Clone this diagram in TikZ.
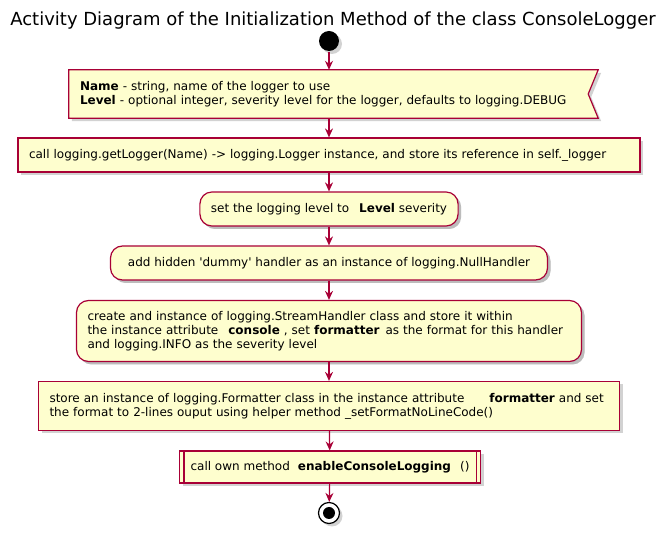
\documentclass[tikz,border=0pt]{standalone}
\usepackage{fontspec}
\newfontfamily\umlfont{DejaVu Sans}
\usetikzlibrary{arrows.meta,shadows,backgrounds}

\definecolor{umlred}{HTML}{A80036}
\definecolor{umlfill}{HTML}{FEFECE}

\tikzset{
    umlshadow/.style={drop shadow={shadow xshift=3pt, shadow yshift=-3pt, fill=black!35, opacity=0.5}},
    acttext/.style={inner xsep=11pt, inner ysep=0pt, align=left, font=\umlfont\fontsize{12}{14}\selectfont},
    actbox/.style={acttext, draw=umlred, fill=umlfill, line width=1.2pt, umlshadow},
    roundbox/.style={actbox, rounded corners=12pt},
    flow/.style={draw=umlred, line width=1.2pt, -{Stealth[length=9pt,width=8pt,inset=3pt]}},
}

\begin{document}
\begin{tikzpicture}[x=1pt,y=-1pt]
        \useasboundingbox (0,0) rectangle (657,534);
        \node[font=\umlfont\fontsize{18}{21}\selectfont] (title) at (333,21) {Activity Diagram of the Initialization Method of the class ConsoleLogger};

        \node[acttext, text width=507pt, minimum height=48pt] (params) at (333.5,94)
            {\textbf{Name} - string, name of the logger to use\\
             \textbf{Level} - optional integer, severity level for the logger, defaults to logging.DEBUG};

        \begin{scope}[every node/.style={actbox}]
            \node[circle, fill=black, draw=none, minimum size=20pt, inner sep=0pt] (start) at (329,41) {};

            \node[text width=600pt, minimum height=34pt] (getlog) at (329,155)
                {call logging.getLogger(Name) -> logging.Logger instance, and store its reference in self.\_logger};
            \node[roundbox, minimum width=258pt, minimum height=34pt, align=center] (setlevel) at (329,209)
                {set the logging level to\hspace{10pt}\textbf{Level} severity};
            \node[roundbox, minimum width=437pt, minimum height=34pt, align=center] (nullhdl) at (329,263)
                {add hidden 'dummy' handler as an instance of logging.NullHandler};
            \node[roundbox, text width=483pt, minimum height=61pt] (console) at (329,331)
                {create and instance of logging.StreamHandler class and store it within\\
                 the instance attribute\hspace{10pt}\textbf{console} , set \textbf{formatter}\hspace{6pt}as the format for this handler\\
                 and logging.INFO as the severity level};
            \node[text width=559pt, minimum height=49pt] (formatter) at (329,406)
                {store an instance of logging.Formatter class in the instance attribute\hspace{25pt}\textbf{formatter} and set\\
                 the format to 2-lines ouput using helper method \_setFormatNoLineCode()};
            \node[minimum width=301pt, minimum height=32pt, align=center] (enable) at (330,467)
                {call own method\hspace{8pt}\textbf{enableConsoleLogging}\hspace{9pt}()};

            \node[circle, draw=black, fill=white, minimum size=21pt, inner sep=0pt] (stop) at (329,513) {};
        \end{scope}
        \node[circle, fill=black, minimum size=12pt, inner sep=0pt] (stopdot) at (stop) {};

        % notched parameter box and subroutine bars
        \begin{pgfonlayer}{background}
            \draw[umlred, fill=umlfill, line width=1.2pt, umlshadow] (params.north west) -- (params.north east)
                -- ([xshift=-10pt]params.east) -- (params.south east) -- (params.south west) -- cycle;
        \end{pgfonlayer}
        \draw[umlred, line width=1.2pt] ([xshift=5pt]enable.north west) -- ([xshift=5pt]enable.south west);
        \draw[umlred, line width=1.2pt] ([xshift=-5pt]enable.north east) -- ([xshift=-5pt]enable.south east);

        \begin{scope}[every edge/.style={flow}]
            \path (start) edge (start |- params.north);
            \path (start |- params.south) edge (getlog);
            \path (getlog) edge (setlevel);
            \path (setlevel) edge (nullhdl);
            \path (nullhdl) edge (console);
            \path (console) edge (formatter);
            \path (formatter) edge (enable);
            \path (enable) edge (stop);
        \end{scope}
    \end{tikzpicture}
\end{document}
